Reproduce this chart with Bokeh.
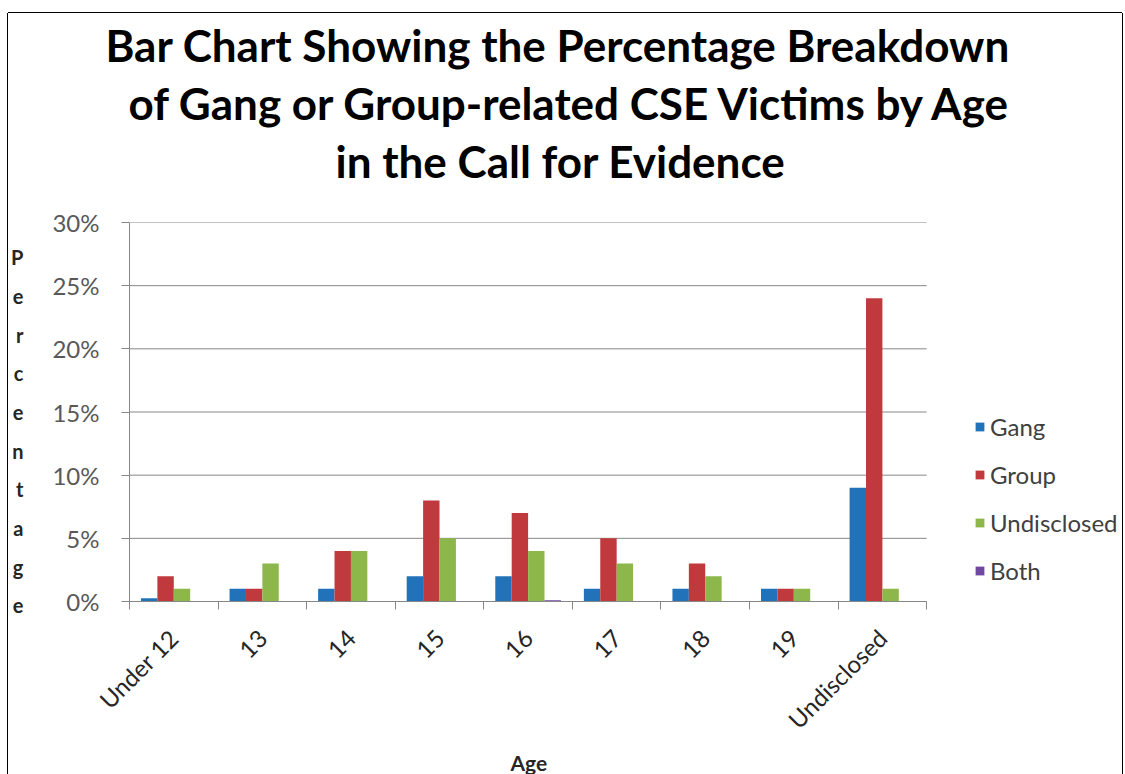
from math import pi
from bokeh.plotting import figure
from bokeh.models import (ColumnDataSource, Range1d, FixedTicker, Legend, LegendItem,
                          Title, NumeralTickFormatter)
from bokeh.transform import dodge
from bokeh.embed import file_html
from bokeh.resources import INLINE

# ---- data ----
categories = ["Under 12", "13", "14", "15", "16", "17", "18", "19", "Undisclosed"]
gang = [0.25, 1, 1, 2, 2, 1, 1, 1, 9]
group = [2, 1, 4, 8, 7, 5, 3, 1, 24]
undisclosed = [1, 3, 4, 5, 4, 3, 2, 1, 1]
both = [0, 0, 0, 0, 0.1, 0, 0, 0, 0]
series_names = ["Gang", "Group", "Undisclosed", "Both"]
series_colors = ["#2172B9", "#C0393C", "#8DB74A", "#7048A0"]
y_ticks = [0, 5, 10, 15, 20, 25, 30]
title_lines = ["Bar Chart Showing the Percentage Breakdown",
               "of Gang or Group-related CSE Victims by Age",
               "in the Call for Evidence"]
title_left = [-24, -1, 206]        # left edge offset of each title line (px)
y_title = "Percentage"
x_title = "Age"

FONT = "Lato"
n = len(categories)
centers = [i + 0.5 for i in range(n)]
src = ColumnDataSource(dict(x=centers, Gang=gang, Group=group,
                            Undisclosed=undisclosed, Both=both))
grid_src = ColumnDataSource(dict(y=y_ticks, x0=[0] * len(y_ticks), x1=[n] * len(y_ticks)))

W, H = 1114, 761
FL, FR = 115, 917          # plot area of the categories (px)
p = figure(width=W, height=H, output_backend="svg", toolbar_location=None,
           x_range=Range1d(0, n * (W - FL) / (FR - FL)), y_range=Range1d(0, 30),
           min_border_left=FL, min_border_right=0,
           min_border_top=209, min_border_bottom=H - 589)
p.styles = {"margin-left": "8px", "margin-top": "13px",
            "box-shadow": "0 -1px 0 0 #000, -1px 0 0 0 #000, 1px 0 0 0 #000"}
p.background_fill_color = "white"
p.border_fill_color = "white"
p.outline_line_color = None
p.xgrid.grid_line_color = None
p.ygrid.grid_line_color = None

# horizontal grid lines over the category area
p.segment(x0="x0", x1="x1", y0="y", y1="y", source=grid_src,
          line_color="#878787", line_width=1)

bw = 1 / 5.4
offsets = [-1.5 * bw, -0.5 * bw, 0.5 * bw, 1.5 * bw]
items = []
for name, col, off in zip(series_names, series_colors, offsets):
    r = p.vbar(x=dodge("x", off, range=p.x_range), top=name, width=bw, bottom=0,
               source=src, fill_color=col, line_color=None)
    items.append(LegendItem(label=name, renderers=[r]))

# x axis
xa = p.xaxis[0]
xa.bounds = (0, n)
xa.ticker = FixedTicker(ticks=centers, minor_ticks=list(range(n + 1)))
xa.major_label_overrides = {c: lab for c, lab in zip(centers, categories)}
xa.major_label_orientation = pi / 4
xa.major_tick_line_color = None
xa.major_tick_out = 0
xa.major_tick_in = 0
xa.minor_tick_out = 8
xa.minor_tick_in = 0
xa.minor_tick_line_color = "#878787"
xa.axis_line_color = "#878787"
xa.major_label_standoff = 24
xa.major_label_text_font = FONT
xa.major_label_text_font_size = "24px"
xa.major_label_text_color = "#262626"

ya = p.yaxis[0]
ya.ticker = FixedTicker(ticks=y_ticks)
ya.formatter = NumeralTickFormatter(format="0")
ya.major_label_overrides = {t: f"{t}%" for t in y_ticks}
ya.minor_tick_line_color = None
ya.major_tick_out = 8
ya.major_tick_in = 0
ya.major_tick_line_color = "#878787"
ya.axis_line_color = "#878787"
ya.major_label_standoff = 22
ya.major_label_text_font = FONT
ya.major_label_text_font_size = "24px"
ya.major_label_text_color = "#595959"
ya.axis_label = " \n" + "\n".join(y_title)
ya.axis_label_orientation = "horizontal"
ya.axis_label_text_font = FONT
ya.axis_label_text_font_style = "bold"
ya.axis_label_text_font_size = "20px"
ya.axis_label_text_line_height = 1.612
ya.axis_label_text_color = "#262626"
ya.axis_label_standoff = 26

# spacer between plot area and title, then the title lines (nearest first)
p.add_layout(Title(text=" ", text_font_size="10px", standoff=21), "above")
for line, left in reversed(list(zip(title_lines, title_left))):
    p.add_layout(Title(text=line, align="left", offset=left,
                       text_font=FONT, text_font_style="bold",
                       text_font_size="44px", text_color="black", standoff=4), "above")

# x-axis title
p.add_layout(Title(text=x_title, align="left", offset=381, text_font=FONT,
                   text_font_style="bold", text_font_size="21px",
                   text_color="#262626", standoff=0), "below")

legend = Legend(items=items, location=(845, 16), orientation="vertical",
                glyph_width=11, glyph_height=11, label_height=20, spacing=19,
                label_standoff=5, padding=0, margin=0,
                border_line_color=None, background_fill_alpha=0,
                label_text_font=FONT, label_text_font_size="24px",
                label_text_color="#404040")
p.add_layout(legend)

open("out.html", "w").write(file_html(p, INLINE))
